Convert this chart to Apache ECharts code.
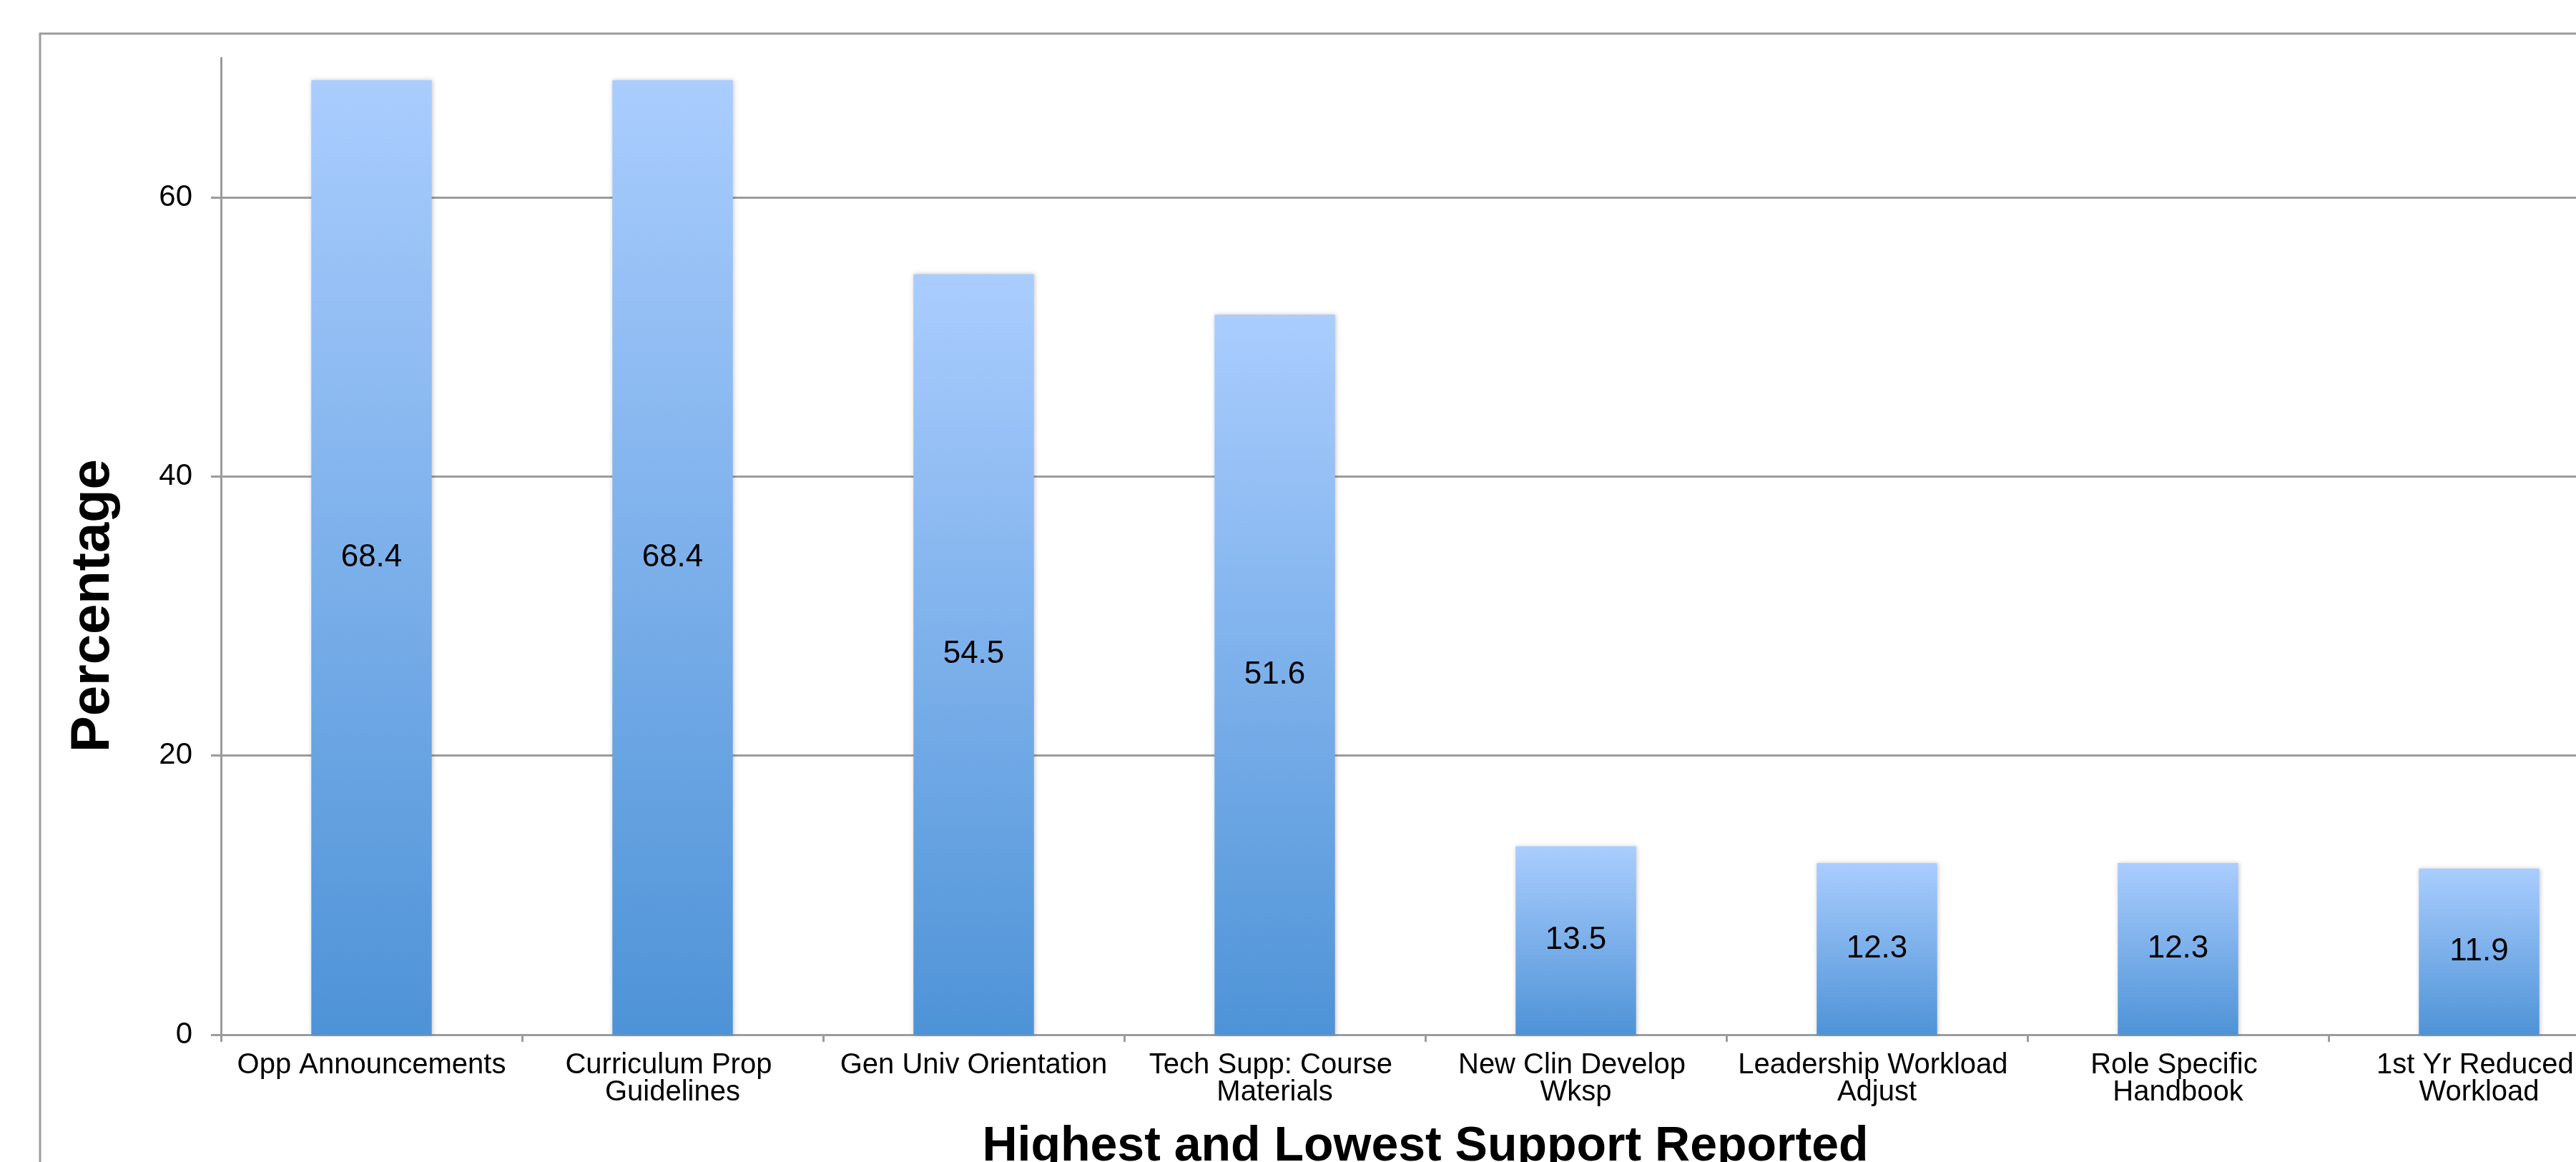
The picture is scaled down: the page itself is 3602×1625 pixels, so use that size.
<!DOCTYPE html>
<html>
<head>
<meta charset="utf-8">
<script src="https://cdn.jsdelivr.net/npm/echarts@6/dist/echarts.min.js"></script>
<style>
  html, body { margin: 0; padding: 0; background: #fff; }
  #chart { width: 3602px; height: 1625px; }
</style>
</head>
<body>
<div id="chart"></div>
<script>
const categories = [
  "Opp Announcements",
  "Curriculum Prop Guidelines",
  "Gen Univ Orientation",
  "Tech Supp: Course Materials",
  "New Clin Develop Wksp",
  "Leadership Workload Adjust",
  "Role Specific Handbook",
  "1st Yr Reduced Workload",
]
const percentages = [68.4, 68.4, 54.5, 51.6, 13.5, 12.3, 12.3, 11.9]
const yTicks = { min: 0, max: 70, interval: 20 }

const font = "'Liberation Sans', Arial, Helvetica, sans-serif"
const grey = "#9c9c9c"

const chart = echarts.init(document.getElementById("chart"), null, { renderer: "canvas" })

chart.setOption({
  backgroundColor: "#fff",
  animation: false,
  // the plot is cut off on the right and bottom, so the grid runs past the canvas
  grid: {
    left: 309, top: 81, width: 3368, height: 1366,
    containLabel: false,
    outerBoundsMode: "none",
  },
  graphic: [
    {
      type: "rect",
      silent: true,
      z: -1,
      shape: { x: 56, y: 47, width: 4000, height: 2000 },
      style: { fill: "none", stroke: grey, lineWidth: 3 },
    },
  ],
  xAxis: {
    type: "category",
    data: categories,
    name: "Highest and Lowest Support Reported",
    nameLocation: "middle",
    nameGap: 123,
    nameTextStyle: { fontFamily: font, fontSize: 68, fontWeight: "bold", color: "#000" },
    axisLine: { lineStyle: { color: grey, width: 3 } },
    axisTick: { show: true, length: 10, lineStyle: { color: grey, width: 3 } },
    axisLabel: {
      interval: 0,
      margin: 24,
      fontFamily: font,
      fontSize: 40,
      lineHeight: 38,
      color: "#000",
      width: 400,
      overflow: "break",
      align: "center",
    },
  },
  yAxis: {
    type: "value",
    min: yTicks.min,
    max: yTicks.max,
    interval: yTicks.interval,
    name: "Percentage",
    nameLocation: "middle",
    nameGap: 140,
    nameTextStyle: {
      fontFamily: font,
      fontSize: 76,
      fontWeight: "bold",
      color: "#000",
      padding: [0, 166, 0, 0],
    },
    axisLine: { show: true, lineStyle: { color: grey, width: 3 } },
    axisTick: { show: true, length: 14, lineStyle: { color: grey, width: 3 } },
    axisLabel: { margin: 40, fontFamily: font, fontSize: 42, color: "#000", showMaxLabel: false },
    splitLine: { show: true, showMaxLine: false, lineStyle: { color: grey, width: 3 } },
  },
  series: [
    {
      type: "bar",
      data: percentages,
      barWidth: "40%",
      itemStyle: {
        color: new echarts.graphic.LinearGradient(0, 0, 0, 1, [
          { offset: 0, color: "#aacdfe" },
          { offset: 1, color: "#4e93d7" },
        ]),
        shadowColor: "rgba(0,0,0,0.22)",
        shadowBlur: 6,
        shadowOffsetX: 1,
      },
      label: {
        show: true,
        position: "inside",
        fontFamily: font,
        fontSize: 44,
        color: "#000",
      },
    },
  ],
})
</script>
</body>
</html>
